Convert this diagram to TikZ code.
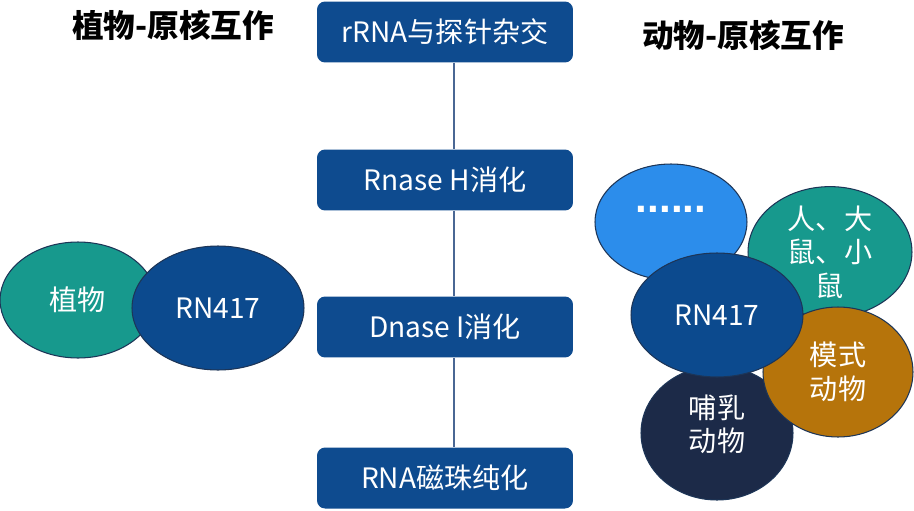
\documentclass[tikz,border=0pt]{standalone}
\usepackage{fontspec}
\setmainfont{Noto Sans CJK SC}
\newfontfamily\dotfont{Liberation Sans}
\usepackage{xcolor}
\usetikzlibrary{positioning, shapes.geometric}
\definecolor{boxblue}{HTML}{0E4B8F}
\definecolor{rnblue}{HTML}{0C4A8E}
\definecolor{tealc}{HTML}{17998D}
\definecolor{skyc}{HTML}{2C8DEB}
\definecolor{brownc}{HTML}{B6740B}
\definecolor{navyc}{HTML}{1C2A48}
\definecolor{edgec}{HTML}{1D3557}
\definecolor{linkc}{HTML}{4A6794}
\tikzset{
  stepbox/.style={draw=none, fill=boxblue, rounded corners=0.16cm, minimum width=5.12cm,
    minimum height=1.22cm, text=white, font=\fontsize{16}{19}\selectfont},
  blob/.style={ellipse, draw=edgec, line width=0.6pt, inner sep=0pt, text=white,
    align=center, font=\fontsize{16}{19}\selectfont},
  bloblabel/.style={text=white, align=center, font=\fontsize{16}{19}\selectfont},
  heading/.style={font=\fontsize{18}{21}\selectfont\bfseries}
}
\begin{document}
\begin{tikzpicture}[x=0.02cm, y=-0.02cm]
            \useasboundingbox (0,0) rectangle (914,511);

            %Titles
            \node[heading] at (173,25) (plantTitle) {植物-原核互作};
            \node[heading] at (743,35) (animalTitle) {动物-原核互作};

            %Steps
            \node[stepbox] at (445,32) (hyb) {rRNA与探针杂交};
            \node[stepbox] at (445,180) (rnaseh) {Rnase H消化};
            \node[stepbox] at (445,327) (dnasei) {Dnase I消化};
            \node[stepbox] at (445,478) (purify) {RNA磁珠纯化};

            %Lines
            \draw[linkc, line width=0.7pt] ([xshift=0.18cm]hyb.south) -- ([xshift=0.18cm]rnaseh.north);
            \draw[linkc, line width=0.7pt] ([xshift=0.18cm]rnaseh.south) -- ([xshift=0.18cm]dnasei.north);
            \draw[linkc, line width=0.7pt] ([xshift=0.18cm]dnasei.south) -- ([xshift=0.18cm]purify.north);

            %Plant side
            \node[blob, fill=tealc, minimum width=3.12cm, minimum height=2.32cm] at (78,300) (plant) {植物};
            \node[blob, fill=rnblue, minimum width=3.44cm, minimum height=2.48cm] at (218,308) (rnL) {RN417};

            %Animal side
            \node[blob, fill=skyc, minimum width=3.04cm, minimum height=2.32cm,
              label={[bloblabel, font=\dotfont\fontsize{24}{26}\selectfont\bfseries, yshift=0.26cm]center:......}] at (671,222) (dots) {};
            \node[blob, fill=tealc, minimum width=3.28cm, minimum height=2.4cm] at (830,252) (rodent) {人、大\\鼠、小\\鼠};
            \node[blob, fill=navyc, minimum width=3.04cm, minimum height=2.68cm,
              label={[bloblabel, yshift=0.18cm]center:哺乳\\动物}] at (717,433) (mammal) {};
            \node[blob, fill=brownc, minimum width=3.0cm, minimum height=2.6cm] at (838,372) (model) {模式\\动物};
            \node[blob, fill=rnblue, minimum width=3.44cm, minimum height=2.48cm] at (717,315) (rnR) {RN417};
        \end{tikzpicture}
\end{document}
